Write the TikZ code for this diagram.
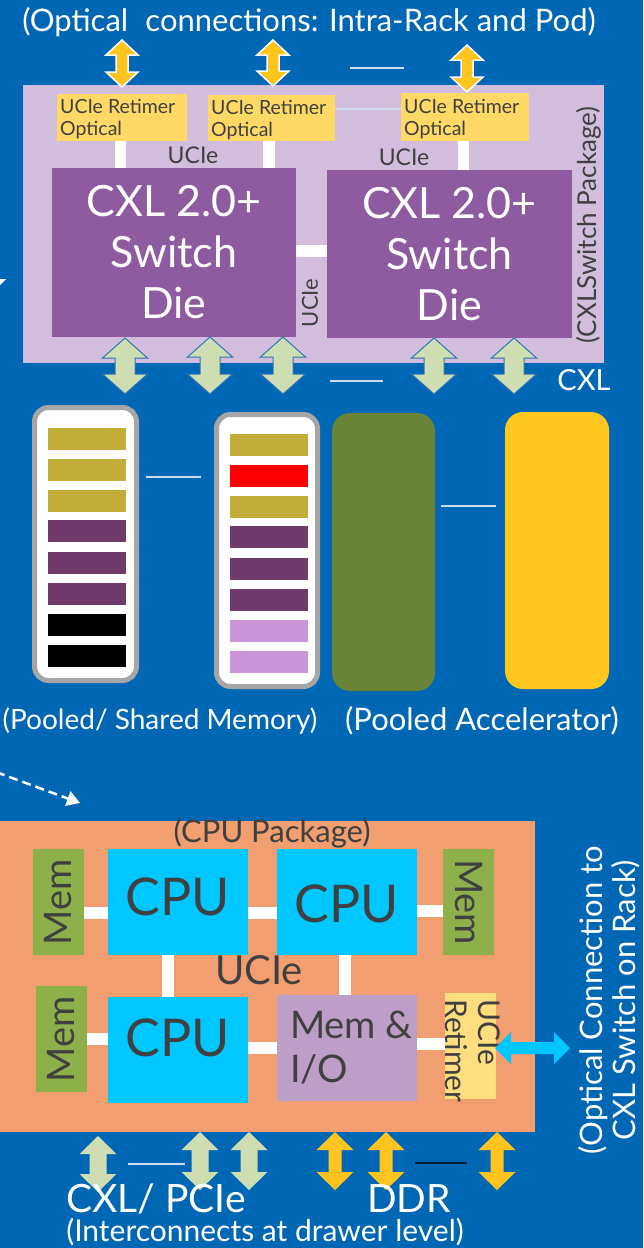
\documentclass[tikz,border=0pt]{standalone}
\usepackage{fontspec}
\setmainfont{Lato}
\usetikzlibrary{arrows.meta}
\definecolor{bg}{RGB}{0,103,180}
\definecolor{pkg}{RGB}{210,190,220}
\definecolor{die}{RGB}{142,91,161}
\definecolor{ret}{RGB}{255,217,102}
\definecolor{garr}{RGB}{206,222,178}
\definecolor{garrline}{RGB}{46,117,182}
\definecolor{oarr}{RGB}{255,196,30}
\definecolor{modgray}{RGB}{166,166,166}
\definecolor{olive}{RGB}{194,173,57}
\definecolor{plum}{RGB}{112,58,107}
\definecolor{lilac}{RGB}{204,148,216}
\definecolor{accg}{RGB}{104,131,54}
\definecolor{accy}{RGB}{255,200,30}
\definecolor{cpupkg}{RGB}{241,158,112}
\definecolor{memg}{RGB}{141,176,74}
\definecolor{cpuc}{RGB}{0,199,255}
\definecolor{memio}{RGB}{189,158,199}
\definecolor{ret2}{RGB}{255,222,128}
\definecolor{dtext}{RGB}{64,64,64}
\definecolor{lline}{RGB}{205,220,238}
\newcommand{\fsz}[2]{\fontsize{#1}{#2}\selectfont}
% vertical double arrow: style, cx, ytop, ybot, headw, shaftw, headlen
\newcommand{\vdarr}[7]{%
  \path[#1] ({#2-#6/2},{#3+#7}) -- ({#2-#5/2},{#3+#7}) -- (#2,#3) -- ({#2+#5/2},{#3+#7}) -- ({#2+#6/2},{#3+#7}) -- ({#2+#6/2},{#4-#7}) -- ({#2+#5/2},{#4-#7}) -- (#2,#4) -- ({#2-#5/2},{#4-#7}) -- ({#2-#6/2},{#4-#7}) -- cycle;}
% horizontal double arrow: style, cy, xleft, xright, headh, shafth, headlen
\newcommand{\hdarr}[7]{%
  \path[#1] ({#3+#7},{#2-#6/2}) -- ({#3+#7},{#2-#5/2}) -- (#3,#2) -- ({#3+#7},{#2+#5/2}) -- ({#3+#7},{#2+#6/2}) -- ({#4-#7},{#2+#6/2}) -- ({#4-#7},{#2+#5/2}) -- (#4,#2) -- ({#4-#7},{#2-#5/2}) -- ({#4-#7},{#2-#6/2}) -- cycle;}
\begin{document}
\begin{tikzpicture}[x=1pt,y=-1pt,
  rbox/.style={inner sep=0pt, outer sep=0pt, anchor=north west, draw=none},
  link/.style={draw=white, line width=12pt},
  garrow/.style={fill=garr, draw=garrline, line width=1pt},
  garrowb/.style={fill=garr},
  oarrow/.style={fill=oarr, draw=white, line width=1.5pt},
  oarrowb/.style={fill=oarr},
  sep/.style={draw=lline, line width=1.5pt},
  wtext/.style={text=white, inner sep=0pt},
  dtxt/.style={text=dtext, inner sep=0pt},
  strip/.style={rbox, minimum width=78pt, minimum height=22pt},
  memmod/.style={rbox, fill=white, draw=modgray, line width=5pt, rounded corners=14pt}
]
\useasboundingbox (0,0) rectangle (643,1248);
\fill[bg] (0,0) rectangle (643,1248);

% ---------------- Title ----------------
\node[wtext, font=\fsz{31}{36}] (title) at (309,22) {(Optical\hspace{0.3em} connections: Intra-Rack and Pod)};

% ---------------- CXL switch package ----------------
\node[rbox, fill=pkg, minimum width=581pt, minimum height=278pt] (pkg) at (23,85) {};
\node[dtxt, rotate=90, font=\fsz{26}{30}] (pkglabel) at (589,225) {(CXLSwitch Package)};

\node[rbox, fill=ret, minimum width=130pt, minimum height=47pt] (ret1) at (57,94) {};
\node[rbox, fill=ret, minimum width=127pt, minimum height=46pt] (ret2) at (208,95) {};
\node[rbox, fill=ret, minimum width=128pt, minimum height=48pt] (ret3) at (401,93) {};
\foreach \r in {ret1,ret2,ret3}{
  \node[dtxt, anchor=west, align=left, font=\fsz{19.5}{22}] at ([xshift=3pt,yshift=-2pt]\r.west) {UCIe Retimer\\Optical};
}
\draw[sep] (ret2.east |- 0,109) coordinate (s1a) -- (ret3.west |- 0,109) coordinate (s1b);

\node[rbox, fill=die, minimum width=244pt, minimum height=169pt] (die1) at (52,168) {};
\node[rbox, fill=die, minimum width=245pt, minimum height=168pt] (die2) at (327,170) {};
\node[wtext, align=center, font=\fsz{43}{51}] at (die1.center) {CXL 2.0+\\Switch\\Die};
\node[wtext, align=center, font=\fsz{43}{51}] at (die2.center) {CXL 2.0+\\Switch\\Die};

\draw[link, line width=11pt] ([xshift=-2pt]ret1.south) -- ([xshift=-2pt]ret1.south |- die1.north);
\draw[link, line width=12pt] ([xshift=-3pt]ret2.south) -- ([xshift=-3pt]ret2.south |- die1.north);
\draw[link, line width=11pt] ([xshift=-2pt]ret3.south) -- ([xshift=-2pt]ret3.south |- die2.north);
\draw[link, line width=12pt] ([yshift=2pt]die1.east) -- ([yshift=2pt]die1.east -| die2.west);

\node[dtxt, font=\fsz{23}{26}] (ucie1) at (193,155) {UCIe};
\node[dtxt, font=\fsz{23}{26}] (ucie2) at (404,157) {UCIe};
\node[dtxt, rotate=90, font=\fsz{22}{24}] (ucie3) at (310,303) {UCIe};

% top orange arrows
\vdarr{oarrow}{122}{40}{87}{32}{12}{15}
\vdarr{oarrow}{273}{40}{86}{32}{12}{15}
\vdarr{oarrow}{467}{45}{92}{32}{12}{15}
\draw[sep] (350,68) coordinate (s0a) -- (404,68) coordinate (s0b);

% green CXL arrows
\vdarr{garrow}{125}{338}{394}{45}{20}{20}
\vdarr{garrow}{210}{337}{394}{45}{20}{20}
\vdarr{garrow}{283}{337}{394}{45}{20}{20}
\vdarr{garrow}{434}{338}{394}{45}{20}{20}
\vdarr{garrow}{514}{338}{394}{45}{20}{20}
\draw[sep] (330,381) coordinate (s2a) -- (383,381) coordinate (s2b);
\node[wtext, font=\fsz{29}{32}] (cxl) at (584,380) {CXL};

% left edge arrow tip fragment
\fill[white] (0,279) -- (6,279) -- (0,285) -- cycle;

% ---------------- Memory modules & accelerators ----------------
\node[memmod, minimum width=102pt, minimum height=273pt] (mod1) at (34.5,407.5) {};
\node[memmod, minimum width=101pt, minimum height=272pt] (mod2) at (216.5,414.5) {};
\foreach \y/\c [count=\i] in {428/olive,459/olive,490/olive,520/plum,552/plum,583/plum,614/black,645/black}{
  \node[strip, fill=\c] (ma\i) at (48,\y) {};
}
\foreach \y/\c [count=\i] in {434/olive,465/red,496/olive,526/plum,558/plum,589/plum,620/lilac,651/lilac}{
  \node[strip, fill=\c] (mb\i) at (230,\y) {};
}
\draw[sep] (146,477) coordinate (s3a) -- (201,477) coordinate (s3b);

\node[rbox, fill=accg, rounded corners=18pt, minimum width=103pt, minimum height=278pt] (acc1) at (332,413) {};
\node[rbox, fill=accy, rounded corners=18pt, minimum width=104pt, minimum height=277pt] (acc2) at (505,412) {};
\draw[sep] (441,506) coordinate (s4a) -- (496,506) coordinate (s4b);

\node[wtext, font=\fsz{28}{32}] (poolmem) at (160,721) {(Pooled/ Shared Memory)};
\node[wtext, font=\fsz{31}{34}] (poolacc) at (482,721) {(Pooled Accelerator)};

% dashed arrow
\coordinate (da) at (-4,772);
\coordinate (db) at (80,803);
\draw[white, dashed, dash pattern=on 9pt off 5pt, line width=2.5pt, -{Triangle[length=13pt,width=15pt]}] (da) -- (db);

% ---------------- CPU package ----------------
\node[rbox, fill=cpupkg, minimum width=536pt, minimum height=311pt] (cpk) at (-1,821) {};
\node[dtxt, font=\fsz{31}{34}] (cpklabel) at (272,833) {(CPU Package)};

\node[rbox, fill=memg, minimum width=51pt, minimum height=106pt] (mem1) at (33,849) {};
\node[rbox, fill=memg, minimum width=51pt, minimum height=106pt] (mem2) at (443,849) {};
\node[rbox, fill=memg, minimum width=51pt, minimum height=106pt] (mem3) at (36,986) {};
\node[rbox, fill=cpuc, minimum width=140pt, minimum height=106pt] (cpu1) at (108,849) {};
\node[rbox, fill=cpuc, minimum width=140pt, minimum height=106pt] (cpu2) at (277,849) {};
\node[rbox, fill=cpuc, minimum width=140pt, minimum height=106pt] (cpu3) at (108,997) {};
\node[rbox, fill=memio, minimum width=140pt, minimum height=106pt] (mio) at (277,995) {};
\node[rbox, fill=ret2, minimum width=51pt, minimum height=106pt] (uret) at (445,993) {};

\node[dtxt, rotate=90, font=\fsz{38}{40}] at (mem1.center) {Mem};
\node[dtxt, rotate=-90, font=\fsz{38}{40}] at (mem2.center) {Mem};
\node[dtxt, rotate=90, font=\fsz{38}{40}] at (mem3.center) {Mem};
\node[dtxt, font=\fsz{52}{56}] at ([yshift=5pt]cpu1.center) {CPU};
\node[dtxt, font=\fsz{52}{56}] at ([yshift=-2pt]cpu2.center) {CPU};
\node[dtxt, font=\fsz{52}{56}] at ([yshift=12pt]cpu3.center) {CPU};
\node[dtxt, anchor=north west, align=left, font=\fsz{38}{44}] at ([xshift=13pt,yshift=-16pt]mio.north west) {Mem \&\\I/O};
\node[dtxt, rotate=-90, anchor=north west, align=left, font=\fsz{30}{33}] at ([xshift=4pt,yshift=-6pt]uret.north east) {UCIe\\Retimer};
\node[dtxt, font=\fsz{40}{44}] (uciec) at (259,970) {UCIe};

\draw[link] ([yshift=-11pt]mem1.east) -- ([yshift=-11pt]mem1.east -| cpu1.west);
\draw[link] ([yshift=-11pt]cpu1.east) -- ([yshift=-11pt]cpu1.east -| cpu2.west);
\draw[link] ([yshift=-9pt]cpu2.east) -- ([yshift=-9pt]cpu2.east -| mem2.west);
\draw[link] ([xshift=-10pt]cpu1.south) -- ([xshift=-10pt]cpu1.south |- cpu3.north);
\draw[link] ([xshift=-2pt]cpu2.south) -- ([xshift=-2pt]cpu2.south |- mio.north);
\draw[link] (mem3.east) -- (mem3.east -| cpu3.west);
\draw[link] ([yshift=2pt]cpu3.east) -- ([yshift=2pt]cpu3.east -| mio.west);
\draw[link] ([yshift=4pt]mio.east) -- ([yshift=4pt]mio.east -| uret.west);

% cyan optical arrow
\hdarr{fill=cpuc}{1048}{495}{570}{32}{12}{16}
\node[wtext, rotate=90, align=center, font=\fsz{31}{33}] (optlabel) at (609,1000) {(Optical Connection to\\CXL Switch on Rack)};

% bottom arrows
\vdarr{garrowb}{98}{1136}{1192}{37}{17}{18}
\vdarr{garrowb}{200}{1132}{1190}{37}{17}{18}
\vdarr{garrowb}{249}{1132}{1190}{37}{17}{18}
\vdarr{oarrowb}{335}{1132}{1190}{37}{13}{18}
\vdarr{oarrowb}{386}{1132}{1190}{37}{13}{18}
\vdarr{oarrowb}{497}{1132}{1190}{37}{13}{18}
\draw[sep] (128,1164) coordinate (s5a) -- (185,1164) coordinate (s5b);
\draw[draw=black!70!bg, line width=1.5pt] (415,1163) coordinate (s6a) -- (467,1163) coordinate (s6b);

\node[wtext, font=\fsz{39}{42}] (cxlpcie) at (156,1199) {CXL/ PCIe};
\node[wtext, font=\fsz{39}{42}] (ddr) at (409,1199) {DDR};
\node[wtext, font=\fsz{30}{32}] (drawer) at (265,1232) {(Interconnects at drawer level)};
\end{tikzpicture}
\end{document}
